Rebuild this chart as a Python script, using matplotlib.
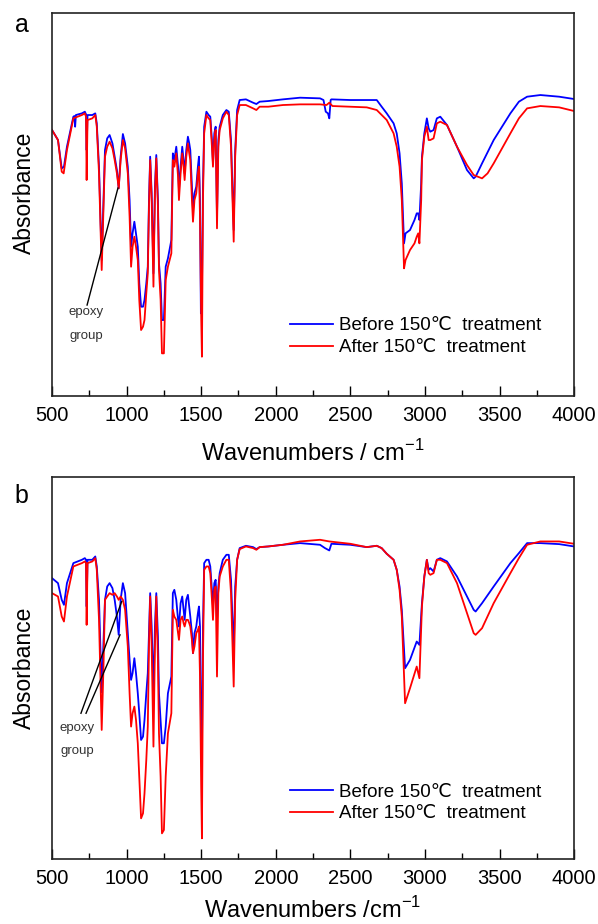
import matplotlib.pyplot as plt
from matplotlib.ticker import MultipleLocator

plt.rcParams['font.family'] = ['Liberation Sans', 'DejaVu Sans']
plt.rcParams['mathtext.fontset'] = 'custom'
plt.rcParams['mathtext.rm'] = 'Liberation Sans'

# ---- panel a : spectra (wavenumber, arbitrary absorbance units) ----
a_before_wn = [500, 540, 565, 580, 600, 643, 650, 655, 660, 700, 720, 728, 732, 738, 770, 790,
               800, 815, 833, 845, 855, 870, 886, 905, 920, 935, 947, 960, 975, 990, 1008, 1020,
               1030, 1040, 1052, 1063, 1075, 1085, 1097, 1110, 1120, 1132, 1142, 1150, 1158, 1168,
               1180, 1190, 1199, 1210, 1217, 1228, 1237, 1250, 1262, 1277, 1300, 1310, 1320, 1333,
               1345, 1351, 1362, 1373, 1382, 1389, 1400, 1411, 1420, 1427, 1438, 1445, 1455, 1467,
               1478, 1485, 1492, 1498, 1505, 1512, 1520, 1535, 1550, 1561, 1572, 1579, 1588, 1597,
               1606, 1615, 1624, 1645, 1669, 1685, 1700, 1718, 1728, 1741, 1758, 1800, 1848, 1870,
               1892, 1950, 2048, 2163, 2297, 2320, 2335, 2350, 2359, 2368, 2373, 2500, 2610, 2677,
               2710, 2744, 2790, 2811, 2830, 2845, 2860, 2870, 2900, 2930, 2945, 2955, 2963, 2975,
               2980, 2996, 3013, 3025, 3036, 3058, 3080, 3103, 3148, 3215, 3282, 3327, 3340, 3383,
               3461, 3573, 3630, 3685, 3774, 3900, 4000]
a_before = [79.8, 76.8, 68.3, 68.8, 74.8, 83.8, 84.0, 80.8, 84.3, 84.8, 85.3, 84.5, 73.8, 84.3, 84.3, 84.8,
            81.8, 68.8, 40.8, 58.8, 73.8, 77.3, 78.3, 75.8, 71.8, 67.8, 62.3, 71.8, 78.6, 75.8, 68.8, 58.8,
            44.8, 48.8, 52.3, 48.8, 44.8, 33.8, 26.8, 26.8, 28.8, 33.8, 38.8, 58.8, 71.8, 60.8,
            36.8, 62.8, 72.3, 58.8, 39.8, 33.8, 22.8, 22.8, 38.8, 41.3, 46.8, 72.8, 70.8, 74.8,
            68.8, 61.8, 68.8, 74.8, 70.8, 66.8, 73.8, 77.8, 75.8, 73.8, 62.8, 55.8, 60.8, 62.8,
            68.8, 71.8, 58.8, 24.8, 30.8, 62.8, 80.8, 85.3, 84.3, 83.8, 76.8, 69.8, 78.8, 80.8,
            53.8, 76.8, 80.8, 84.3, 85.8, 85.3, 76.8, 49.8, 73.8, 85.8, 88.8, 89.0, 88.0, 87.6,
            88.3, 88.5, 89.0, 89.5, 89.3, 88.8, 85.3, 84.8, 83.3, 88.8, 89.0, 88.8, 88.8, 88.8,
            86.8, 84.8, 81.8, 78.8, 72.8, 63.8, 45.8, 48.8, 49.8, 52.8, 54.8, 54.8, 52.8, 63.8,
            71.8, 78.8, 83.3, 80.3, 79.3, 79.8, 83.3, 83.8, 81.3, 74.8, 67.8, 65.3, 65.8, 69.8,
            76.8, 84.8, 88.3, 89.8, 90.3, 89.8, 89.1]

a_after_wn = [500, 540, 565, 578, 600, 643, 700, 720, 728, 732, 738, 770, 790, 800, 815, 833,
              845, 855, 870, 886, 905, 920, 935, 947, 960, 975, 990, 1008, 1020, 1030, 1040, 1052,
              1063, 1075, 1085, 1097, 1110, 1120, 1132, 1142, 1150, 1158, 1168, 1180, 1190, 1199,
              1210, 1217, 1228, 1237, 1250, 1262, 1277, 1300, 1310, 1320, 1333, 1345, 1351, 1362,
              1373, 1382, 1389, 1400, 1411, 1420, 1427, 1438, 1445, 1455, 1467, 1478, 1485, 1492,
              1500, 1505, 1512, 1520, 1535, 1550, 1561, 1572, 1579, 1588, 1597, 1606, 1615, 1624,
              1645, 1669, 1685, 1700, 1718, 1728, 1741, 1758, 1800, 1848, 1870, 1892, 1950, 2048,
              2163, 2297, 2340, 2359, 2380, 2500, 2610, 2677, 2710, 2744, 2790, 2811, 2830, 2845,
              2860, 2870, 2900, 2930, 2945, 2955, 2963, 2975, 2980, 2996, 3013, 3025, 3036, 3058,
              3080, 3103, 3148, 3215, 3282, 3327, 3383, 3420, 3461, 3573, 3630, 3685, 3774, 3900,
              4000]
a_after = [79.8, 76.8, 67.3, 66.8, 73.8, 83.3, 84.3, 84.8, 83.8, 64.8, 82.8, 83.3, 84.3, 80.8, 66.8, 37.8,
           56.8, 71.8, 74.8, 76.3, 74.3, 70.8, 66.8, 62.3, 70.8, 76.8, 74.3, 66.8, 53.8, 38.8, 44.8, 47.8,
           44.8, 40.8, 28.8, 19.8, 20.8, 22.8, 30.8, 36.8, 56.8, 70.8, 58.8, 32.8, 60.8, 71.3,
           56.8, 37.8, 28.8, 12.8, 12.8, 34.8, 38.8, 42.8, 70.8, 68.8, 72.8, 65.8, 58.8, 66.8,
           72.8, 68.8, 64.8, 71.8, 75.8, 72.8, 70.8, 58.8, 52.3, 58.8, 60.8, 66.8, 68.8, 53.8,
           23.8, 11.8, 58.8, 78.8, 84.3, 83.3, 82.8, 74.8, 68.8, 76.8, 79.8, 50.3, 74.8, 79.8,
           83.3, 85.3, 84.3, 74.8, 46.3, 71.8, 84.3, 87.3, 87.3, 86.3, 85.8, 86.8, 86.8, 87.3,
           87.5, 87.5, 87.3, 88.0, 87.0, 86.8, 86.6, 85.8, 84.3, 82.8, 78.8, 74.8, 68.8, 58.8,
           38.3, 40.8, 43.8, 45.8, 47.8, 48.8, 45.8, 58.8, 70.8, 77.8, 80.8, 76.8, 76.8, 77.3,
           81.8, 82.3, 81.3, 74.8, 69.3, 66.3, 65.3, 66.8, 69.8, 78.8, 83.3, 86.3, 87.0, 86.6,
           85.5]

# ---- panel b ----
b_before_wn = [500, 540, 565, 580, 600, 643, 700, 720, 728, 732, 738, 770, 790, 800, 815, 833,
               845, 855, 870, 886, 905, 920, 935, 947, 960, 975, 990, 1008, 1020, 1030, 1040, 1052,
               1063, 1075, 1085, 1097, 1110, 1120, 1132, 1142, 1150, 1158, 1168, 1180, 1190, 1199,
               1210, 1217, 1228, 1237, 1250, 1262, 1277, 1300, 1310, 1320, 1333, 1345, 1351, 1362,
               1373, 1382, 1389, 1400, 1411, 1420, 1427, 1438, 1445, 1455, 1467, 1478, 1485, 1492,
               1498, 1505, 1512, 1520, 1535, 1550, 1561, 1572, 1579, 1588, 1597, 1606, 1615, 1624,
               1645, 1669, 1685, 1700, 1718, 1728, 1741, 1758, 1800, 1848, 1870, 1892, 1950, 2048,
               2163, 2297, 2330, 2359, 2373, 2500, 2610, 2677, 2710, 2744, 2790, 2811, 2830, 2845,
               2867, 2900, 2945, 2963, 2980, 2996, 3013, 3025, 3036, 3058, 3080, 3103, 3148, 3215,
               3282, 3327, 3340, 3383, 3461, 3573, 3630, 3685, 3774, 3900, 4000]
b_before = [84.2, 82.7, 77.7, 76.2, 82.7, 88.7, 89.7, 90.2, 89.7, 75.7, 89.7, 89.7, 90.7, 87.7, 77.7, 50.0,
            65.0, 77.7, 81.7, 82.7, 81.2, 77.7, 72.7, 67.2, 77.7, 82.7, 79.7, 67.7, 59.7, 53.7, 55.7, 60.2,
            55.7, 49.7, 43.7, 35.7, 36.7, 41.7, 49.7, 55.7, 67.7, 79.7, 69.7, 49.7, 69.7, 79.7,
            66.7, 49.7, 41.7, 34.7, 34.7, 39.7, 49.7, 54.7, 79.7, 80.7, 77.7, 71.7, 69.7, 76.7,
            78.7, 74.7, 71.7, 77.7, 79.2, 75.7, 72.7, 67.7, 61.7, 67.7, 69.7, 73.7, 75.7, 69.7,
            41.7, 31.7, 69.7, 88.7, 89.7, 89.7, 87.7, 80.7, 75.7, 82.7, 83.7, 71.7, 81.7, 85.7,
            89.7, 91.2, 91.2, 83.7, 61.7, 81.7, 89.7, 93.2, 93.9, 93.5, 92.9, 93.5, 93.7, 94.2,
            94.7, 94.2, 93.2, 92.5, 94.5, 94.2, 93.5, 93.9, 93.2, 91.5, 89.7, 86.7, 81.7, 74.7,
            57.2, 59.7, 65.2, 64.2, 76.7, 84.7, 89.7, 86.7, 87.2, 86.2, 89.7, 90.2, 89.2, 84.7,
            78.7, 74.7, 74.2, 76.7, 81.7, 88.7, 91.7, 94.7, 94.7, 94.4, 93.7]

b_after_wn = [500, 540, 565, 580, 600, 643, 700, 720, 728, 732, 738, 770, 790, 800, 815, 833,
              845, 855, 870, 886, 905, 920, 935, 947, 960, 975, 990, 1008, 1020, 1030, 1040, 1052,
              1063, 1075, 1085, 1097, 1110, 1120, 1132, 1142, 1150, 1158, 1168, 1180, 1190, 1199,
              1210, 1217, 1228, 1237, 1250, 1262, 1277, 1300, 1310, 1320, 1333, 1345, 1351, 1362,
              1373, 1382, 1389, 1400, 1411, 1420, 1427, 1438, 1445, 1455, 1467, 1478, 1485, 1492,
              1500, 1505, 1512, 1520, 1535, 1550, 1561, 1572, 1579, 1588, 1597, 1606, 1615, 1624,
              1645, 1669, 1685, 1700, 1718, 1728, 1741, 1758, 1800, 1848, 1870, 1892, 1950, 2048,
              2163, 2297, 2359, 2500, 2610, 2677, 2710, 2744, 2790, 2811, 2830, 2845, 2860, 2867,
              2900, 2945, 2963, 2980, 2996, 3013, 3025, 3036, 3058, 3080, 3103, 3148, 3215, 3282,
              3327, 3340, 3383, 3461, 3573, 3630, 3685, 3774, 3900, 4000]
b_after = [79.7, 78.7, 72.7, 71.2, 78.7, 87.7, 88.7, 89.2, 88.7, 70.2, 88.7, 89.2, 90.2, 86.7, 71.7, 38.7,
           57.7, 77.7, 78.7, 79.7, 79.2, 79.7, 78.7, 77.7, 78.7, 77.7, 74.7, 63.7, 49.7, 39.7, 43.7, 45.7,
           41.7, 34.7, 24.7, 12.2, 13.7, 19.7, 29.7, 39.7, 63.7, 78.7, 63.7, 33.7, 63.7, 78.7,
           59.7, 37.7, 24.7, 7.7, 8.7, 24.7, 37.7, 43.7, 74.7, 72.7, 71.7, 67.7, 65.7, 71.7,
           72.7, 70.7, 69.7, 71.7, 71.7, 70.7, 69.7, 65.7, 61.7, 63.7, 67.7, 68.7, 69.7, 54.7,
           21.7, 6.2, 59.7, 86.7, 87.7, 87.7, 85.7, 77.7, 71.7, 80.7, 81.7, 54.7, 79.7, 84.7,
           87.7, 89.7, 89.7, 79.7, 51.7, 77.7, 89.7, 92.9, 93.7, 93.2, 92.7, 93.5, 93.7, 94.2,
           95.2, 95.7, 95.2, 94.5, 93.5, 93.9, 93.2, 91.5, 89.7, 86.7, 80.7, 72.7, 54.7, 46.7,
           51.2, 57.7, 54.2, 75.7, 84.7, 89.7, 85.7, 85.2, 85.7, 89.7, 89.7, 88.7, 82.7, 73.7,
           67.7, 67.2, 69.2, 76.7, 85.7, 90.2, 94.2, 95.2, 95.2, 94.5]

legend_labels = ['Before 150\u2103  treatment', 'After 150\u2103  treatment']
xlabels = ['Wavenumbers / cm$^{\\mathrm{-1}}$', 'Wavenumbers /cm$^{\\mathrm{-1}}$']
label_pads = [11, 7]

fig = plt.figure(figsize=(5.98, 9.24), dpi=100)
ax_a = fig.add_axes([0.087, 0.5714, 0.873, 0.4145])
ax_b = fig.add_axes([0.087, 0.0703, 0.873, 0.4134])

panels = [
    (ax_a, a_before_wn, a_before, a_after_wn, a_after, 114.9, 0.155),
    (ax_b, b_before_wn, b_before, b_after_wn, b_after, 114.5, 0.147),
]

for i, (ax, bw, bv, aw, av, ytop, leg_y) in enumerate(panels):
    ax.plot(bw, bv, color='#0000ff', lw=1.3, label=legend_labels[0])
    ax.plot(aw, av, color='#ff0000', lw=1.3, label=legend_labels[1])
    ax.set_xlim(500, 4000)
    ax.set_ylim(0, ytop)
    ax.set_yticks([])
    ax.xaxis.set_major_locator(MultipleLocator(500))
    ax.xaxis.set_minor_locator(MultipleLocator(250))
    ax.tick_params(axis='x', which='major', direction='in', length=7, width=1,
                   labelsize=14.5, pad=7)
    ax.tick_params(axis='x', which='minor', direction='in', length=4, width=1)
    for sp in ax.spines.values():
        sp.set_linewidth(1.2)
        sp.set_color('#222222')
    ax.set_xlabel(xlabels[i], fontsize=17, labelpad=label_pads[i])
    ax.set_ylabel('Absorbance', fontsize=16.5)
    ax.legend(loc='center left', bbox_to_anchor=(0.456, leg_y), frameon=False,
              fontsize=13.5, handlelength=2.3, handletextpad=0.3, labelspacing=0.25,
              borderpad=0, borderaxespad=0)

ax_a.yaxis.set_label_coords(-0.031, 0.53)
ax_b.yaxis.set_label_coords(-0.031, 0.5)

# epoxy group annotations
ax_a.plot([942, 735], [62.4, 27.3], color='black', lw=1)
ax_a.text(728, 25.2, 'epoxy', fontsize=9.5, color='#333333', ha='center', va='center')
ax_a.text(728, 18.0, 'group', fontsize=9.5, color='#333333', ha='center', va='center')

ax_b.plot([967, 694], [77.2, 43.7], color='black', lw=1)
ax_b.plot([956, 728], [67.2, 43.7], color='black', lw=1)
ax_b.text(668, 39.4, 'epoxy', fontsize=9.5, color='#333333', ha='center', va='center')
ax_b.text(668, 32.5, 'group', fontsize=9.5, color='#333333', ha='center', va='center')

fig.text(0.025, 0.9654, 'a', fontsize=18, va='baseline')
fig.text(0.025, 0.4556, 'b', fontsize=18, va='baseline')

fig.savefig('out.png', dpi=100)
